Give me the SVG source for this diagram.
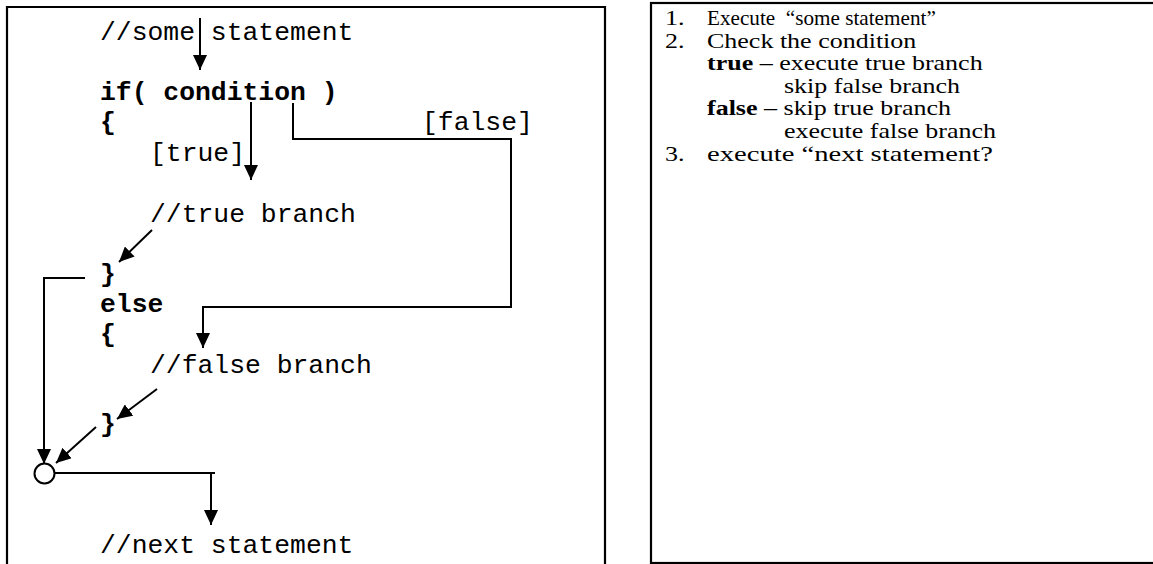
<svg xmlns="http://www.w3.org/2000/svg" width="1153" height="564" viewBox="0 0 1153 564">
<style>
.code{font-family:"Liberation Mono","Courier New",monospace;font-size:26.4px;fill:#000}
.b{font-weight:bold}
.note{font-family:"Liberation Serif","Times New Roman",serif;font-size:20px;fill:#000}
.frame{fill:none;stroke:#000;stroke-width:2.2}
.con{fill:none;stroke:#000;stroke-width:2}
.arr{marker-end:url(#ah)}
</style>
<defs>
<marker id="ah" markerUnits="userSpaceOnUse" viewBox="0 0 15 14" refX="15" refY="7" markerWidth="15" markerHeight="14" orient="auto">
<path d="M0,0 L15,7 L0,14 z" fill="#000"/>
</marker>
</defs>
<rect width="1153" height="564" fill="#fff"/>
<g id="left-frame"><path class="frame" d="M7,564 V7 H605 V564"/></g>
<g id="right-frame"><rect class="frame" x="651" y="3" width="520" height="560"/></g>
<g id="code">
<g id="n-some"><text class="code" x="100" y="40">//some statement</text></g>
<g id="n-if"><text class="code b" x="100" y="100">if( condition )</text></g>
<g id="n-open1"><text class="code b" x="100" y="130">{</text></g>
<g id="n-true-label"><text class="code" x="150" y="161">[true]</text></g>
<g id="n-false-label"><text class="code" x="422" y="130">[false]</text></g>
<g id="n-true-branch"><text class="code" x="150" y="222">//true branch</text></g>
<g id="n-close1"><text class="code b" x="100" y="282">}</text></g>
<g id="n-else"><text class="code b" x="100" y="312">else</text></g>
<g id="n-open2"><text class="code b" x="100" y="342">{</text></g>
<g id="n-false-branch"><text class="code" x="150" y="373">//false branch</text></g>
<g id="n-close2"><text class="code b" x="100" y="432">}</text></g>
<g id="n-merge"><circle cx="44.5" cy="473.5" r="10" fill="#fff" stroke="#000" stroke-width="2"/></g>
<g id="n-next"><text class="code" x="100" y="553">//next statement</text></g>
</g>
<g id="connectors">
<path class="con arr" d="M200,18 V70"/>
<path class="con arr" d="M251,102 V180"/>
<path class="con arr" d="M293,103 V139 H511 V307 H203 V348"/>
<path class="con arr" d="M152,230 L119,262"/>
<path class="con arr" d="M85,278 H44 V464"/>
<path class="con arr" d="M157,389 L117,419"/>
<path class="con arr" d="M96,427 L56,463"/>
<path class="con" d="M55,473 H215"/>
<path class="con arr" d="M211,473 V525"/>
</g>
<g id="notes" transform="matrix(1.3,0,0,1,-199.5,0)">
<text class="note" x="665" y="25">1.</text>
<text class="note" x="697.3" y="25" xml:space="preserve" textLength="176" lengthAdjust="spacingAndGlyphs">Execute  “some statement”</text>
<text class="note" x="665" y="47.6">2.</text>
<text class="note" x="697.3" y="47.6">Check the condition</text>
<text class="note" x="697.3" y="70.2"><tspan font-weight="bold">true</tspan> – execute true branch</text>
<text class="note" x="756.5" y="92.8">skip false branch</text>
<text class="note" x="697.3" y="115.4"><tspan font-weight="bold">false</tspan> – skip true branch</text>
<text class="note" x="756.5" y="138">execute false branch</text>
<text class="note" x="665" y="160.6">3.</text>
<text class="note" x="697.3" y="160.6" textLength="220" lengthAdjust="spacingAndGlyphs">execute “next statement?</text>
</g>
</svg>
